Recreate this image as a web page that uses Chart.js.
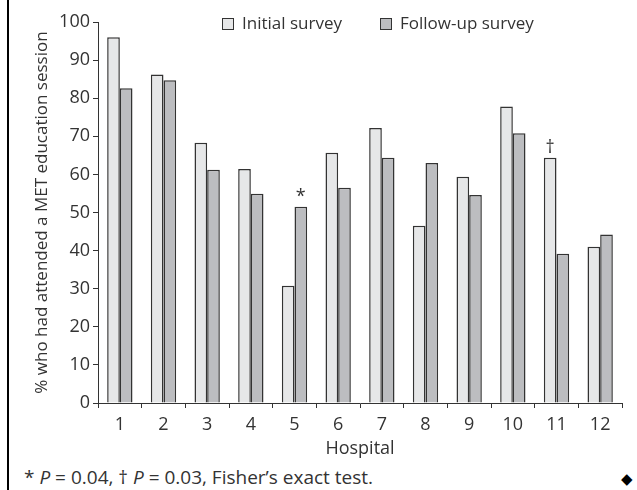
<!DOCTYPE html>
<html lang="en">
<head>
  <meta charset="UTF-8">
  <title>MET education session attendance</title>
  <script src="https://cdn.jsdelivr.net/npm/chart.js"></script>
  <style>
    body { margin: 0; background: white; font-family: "Open Sans", sans-serif; color: #333; }
    .wrap { position: relative; width: 637px; height: 490px; overflow: hidden; }
    .frame { position: absolute; left: 7px; top: 0; width: 2px; height: 490px; background: black; }
    canvas { position: absolute; left: 0; top: 0; }
    .legend { position: absolute; top: 11px; font-size: 17px; line-height: 24px; white-space: nowrap; }
    .legend span.box { display: inline-block; width: 10px; height: 10px; border: 1.5px solid #333; margin-right: 8px; vertical-align: -1px; }
    .note { position: absolute; left: 24px; top: 464px; font-size: 19px; white-space: nowrap; }
    .diamond { position: absolute; left: 621px; top: 468px; font-size: 15px; color: black; }
  </style>
</head>
<body>
  <div class="wrap">
    <div class="frame"></div>
    <canvas id="metChart" width="637" height="460"></canvas>
    <div class="legend" id="legend"></div>
    <div class="note">* <i>P</i> = 0.04, † <i>P</i> = 0.03, Fisher’s exact test.</div>
    <div class="diamond">◆</div>
  </div>

  <script>
    const hospitals = ['1', '2', '3', '4', '5', '6', '7', '8', '9', '10', '11', '12'];
    const initialSurvey = [96.0, 86.2, 68.3, 61.4, 30.8, 65.7, 72.2, 46.5, 59.4, 77.8, 64.4, 41.0];
    const followUpSurvey = [82.6, 84.7, 61.2, 54.9, 51.5, 56.5, 64.4, 63.0, 54.6, 70.8, 39.2, 44.2];
    // [dataset index, hospital index, symbol]
    const significance = [[1, 4, '*'], [0, 10, '†']];

    const ink = '#333';
    const tickFont = { family: '"Open Sans", sans-serif', size: 18 };

    const markPlugin = {
      id: 'marks',
      afterDatasetsDraw(chart) {
        const ctx = chart.ctx;
        ctx.save();
        ctx.fillStyle = ink;
        ctx.font = '18px "Open Sans", sans-serif';
        ctx.textAlign = 'center';
        ctx.textBaseline = 'bottom';
        significance.forEach(([ds, i, sym]) => {
          const bar = chart.getDatasetMeta(ds).data[i];
          ctx.fillText(sym, bar.x, bar.y - 1);
        });
        ctx.restore();
      }
    };

    const chart = new Chart(document.getElementById('metChart'), {
      type: 'bar',
      data: {
        labels: hospitals,
        datasets: [
          { label: 'Initial survey', data: initialSurvey, backgroundColor: '#e6e7e8', borderColor: ink, borderWidth: 1.5 },
          { label: 'Follow-up survey', data: followUpSurvey, backgroundColor: '#bcbdc0', borderColor: ink, borderWidth: 1.5 }
        ]
      },
      options: {
        responsive: false,
        animation: false,
        categoryPercentage: 0.58,
        barPercentage: 1,
        layout: { padding: { left: 30, right: 15, top: 22, bottom: 0 } },
        scales: {
          x: {
            grid: { drawOnChartArea: false, color: ink, tickLength: 5, offset: true },
            border: { color: ink, width: 1 },
            ticks: { color: ink, font: tickFont, padding: 6, maxRotation: 0 },
            title: { display: true, text: 'Hospital', color: ink, font: tickFont, padding: { top: 0, bottom: 0 } },
            afterFit: (scale) => { scale.height = 57; }
          },
          y: {
            min: 0, max: 100,
            ticks: { stepSize: 10, color: ink, font: tickFont, padding: 3 },
            grid: { drawOnChartArea: false, color: ink, tickLength: 5 },
            border: { color: ink, width: 1 },
            title: { display: true, text: '% who had attended a MET education session', color: ink, font: { family: '"Open Sans", sans-serif', size: 17 }, padding: 2 },
            afterFit: (scale) => { scale.width = 68; }
          }
        },
        plugins: {
          legend: { display: false },
          tooltip: { enabled: false }
        }
      },
      plugins: [markPlugin]
    });

    // legend built from the datasets, sitting inside the plot area
    const legend = document.getElementById('legend');
    legend.style.left = '222px';
    legend.innerHTML = chart.data.datasets.map((ds, i) =>
      `<span style="margin-right:${i === 0 ? 38 : 0}px"><span class="box" style="background:${ds.backgroundColor}"></span>${ds.label}</span>`
    ).join('');
  </script>
</body>
</html>
